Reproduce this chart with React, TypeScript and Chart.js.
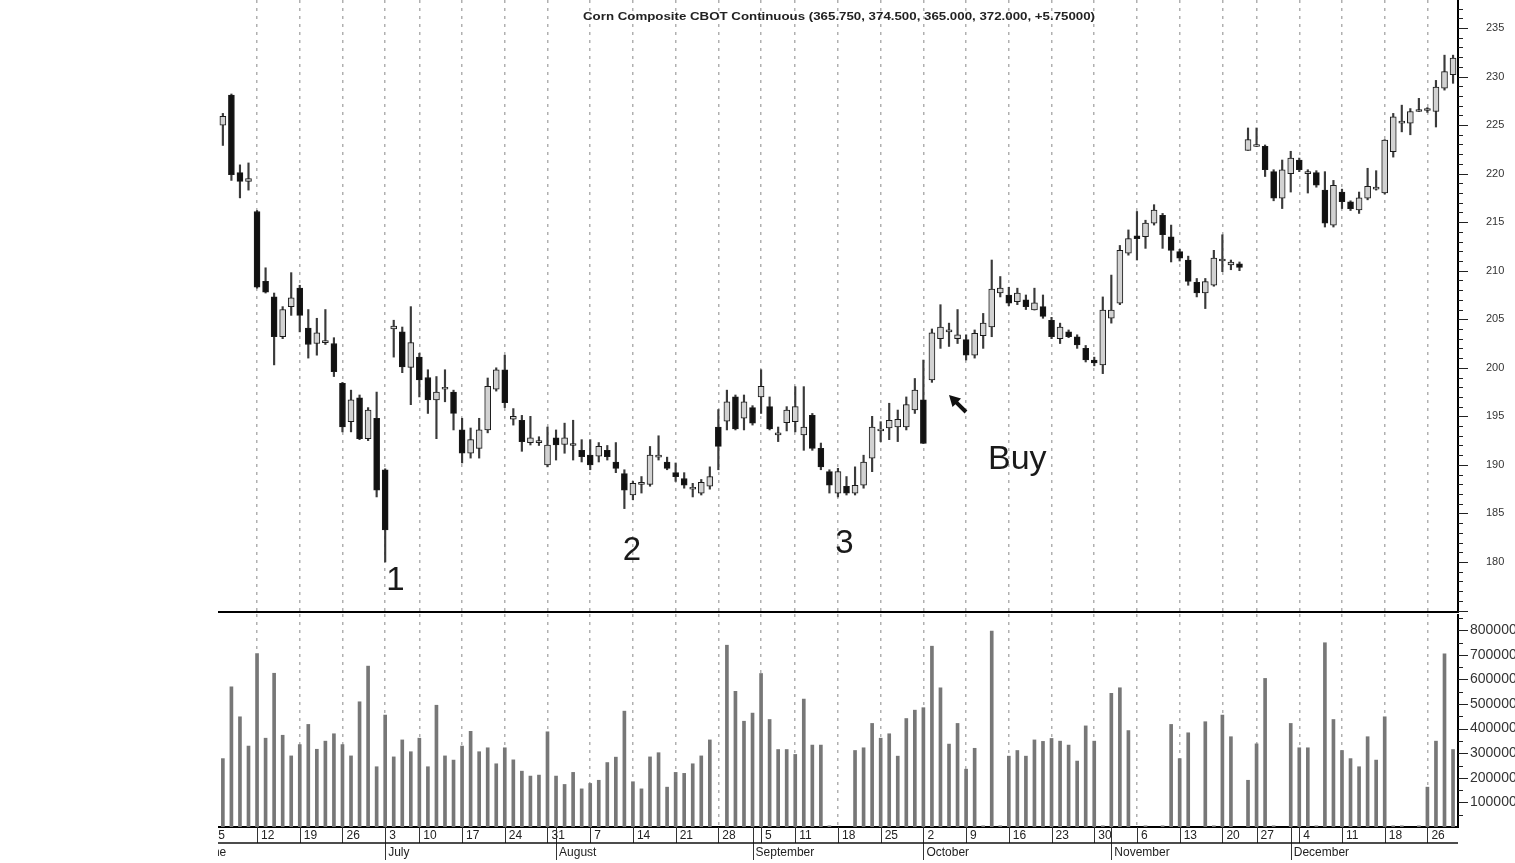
import React, { useEffect, useRef } from "react";
import { Chart, registerables } from "chart.js";

Chart.register(...registerables);

const FONT = "'Liberation Sans', Arial, Helvetica, sans-serif";

// Trading days (index 0 = Jun 5, partly outside the plot)
const monthDays: [string, number[]][] = [
  ["Jun", [5, 6, 7, 8, 9, 12, 13, 14, 15, 16, 19, 20, 21, 22, 23, 26, 27, 28, 29, 30]],
  ["Jul", [3, 5, 6, 7, 10, 11, 12, 13, 14, 17, 18, 19, 20, 21, 24, 25, 26, 27, 28, 31]],
  ["Aug", [1, 2, 3, 4, 7, 8, 9, 10, 11, 14, 15, 16, 17, 18, 21, 22, 23, 24, 25, 28, 29, 30, 31]],
  ["Sep", [1, 5, 6, 7, 8, 11, 12, 13, 14, 15, 18, 19, 20, 21, 22, 25, 26, 27, 28, 29]],
  ["Oct", [2, 3, 4, 5, 6, 9, 10, 11, 12, 13, 16, 17, 18, 19, 20, 23, 24, 25, 26, 27, 30, 31]],
  ["Nov", [1, 2, 3, 6, 7, 8, 9, 10, 13, 14, 15, 16, 17, 20, 21, 22, 24, 27, 28, 29, 30]],
  ["Dec", [1, 4, 5, 6, 7, 8, 11, 12, 13, 14, 15, 18, 19, 20, 21, 22, 26, 27, 28, 29]],
];
const dates: string[] = monthDays.flatMap(([m, ds]) => ds.map((d) => `${m} ${d}`));

const weekStarts = [0, 5, 10, 15, 20, 24, 29, 34, 39, 44, 49, 54, 59, 64, 68, 73, 78, 83, 88, 93, 98, 103, 108, 113, 118, 122, 127, 132, 137, 142];
const monthStarts = [-2, 20, 40, 63, 83, 105, 126];
const monthNames = ["June", "July", "August", "September", "October", "November", "December"];

const priceTicks = [180, 185, 190, 195, 200, 205, 210, 215, 220, 225, 230, 235];
const volumeTicks = [100000, 200000, 300000, 400000, 500000, 600000, 700000, 800000];

const open: (number | null)[] = [
  null, 225.0, 228.1, 220.1, 219.2, 216.1, 208.9, 207.3, 203.2, 206.3,
  208.2, 204.1, 202.5, 202.6, 202.5, 198.4, 194.45, 196.9, 192.7, 194.8,
  189.5, 204.0, 203.7, 200.05, 201.1, 199.0, 196.7, 197.8, 197.5, 193.6,
  191.2, 191.7, 193.6, 197.8, 199.8, 194.7, 194.6, 192.3, 192.3, 190.0,
  192.8, 192.1, 192.0, 191.5, 191.0, 190.9, 191.5, 190.3, 189.1, 186.9,
  188.0, 188.0, 190.8, 190.3, 189.2, 188.6, 187.5, 187.1, 187.8, 193.9,
  194.5, 197.0, 194.8, 195.9, 197.0, 196.0, 193.1, 194.35, 194.45, 193.1,
  195.1, 191.7, 189.3, 187.1, 187.8, 187.1, 187.9, 190.7, 193.5, 193.8,
  193.9, 193.9, 195.65, 196.7, 198.75, 203.0, 203.7, 203.0, 202.9, 201.3,
  203.3, 204.2, 207.7, 207.5, 206.8, 207.0, 205.95, 206.3, 204.9, 203.0,
  203.7, 203.2, 202.0, 200.8, 200.3, 205.1, 206.65, 211.8, 213.6, 213.5,
  214.9, 215.7, 213.5, 211.96, 211.1, 208.8, 207.7, 208.5, 211.0, 210.6,
  210.7, 222.4, 222.8, 222.8, 220.2, 217.46, 220.0, 221.4, 220.0, 220.1,
  218.3, 214.7, 218.1, 217.1, 216.25, 217.46, 218.4, 218.0, 222.26, 225.2,
  225.2, 226.4, 226.5, 226.4, 228.8, 230.2,
];
const high: (number | null)[] = [
  null, 226.2, 228.2, 220.9, 221.1, 216.2, 210.3, 207.7, 206.3, 209.8,
  208.5, 206.0, 205.1, 206.0, 203.1, 198.5, 197.7, 197.2, 195.9, 197.5,
  189.6, 204.9, 204.2, 206.3, 201.5, 199.8, 199.1, 199.8, 197.7, 194.8,
  193.8, 194.8, 198.95, 200.0, 201.3, 195.8, 195.1, 195.0, 192.9, 193.9,
  193.6, 194.3, 194.6, 192.6, 192.6, 192.3, 192.0, 192.3, 189.5, 188.3,
  188.8, 191.9, 193.0, 190.8, 190.2, 189.2, 188.1, 188.5, 189.8, 195.7,
  197.7, 197.2, 197.2, 196.1, 199.8, 197.0, 193.9, 196.0, 198.06, 198.06,
  195.3, 192.25, 189.5, 189.65, 188.8, 189.8, 191.0, 195.0, 194.45, 196.35,
  195.65, 197.0, 198.9, 200.8, 204.0, 206.5, 204.6, 206.0, 203.4, 203.9,
  205.6, 211.1, 209.4, 208.3, 208.2, 207.5, 208.2, 207.5, 205.2, 204.6,
  203.9, 203.4, 202.3, 201.1, 207.3, 209.55, 212.6, 214.2, 216.1, 215.2,
  216.8, 215.9, 214.7, 212.2, 211.5, 209.2, 209.2, 212.1, 213.7, 211.1,
  210.9, 224.7, 224.7, 222.95, 220.4, 221.4, 222.3, 221.6, 220.4, 220.3,
  220.2, 219.3, 218.4, 217.2, 218.1, 220.55, 220.3, 223.5, 226.2, 227.05,
  226.7, 227.75, 226.8, 229.6, 232.2, 232.2,
];
const low: (number | null)[] = [
  null, 222.9, 219.3, 217.5, 218.3, 208.2, 207.7, 200.3, 203.0, 205.4,
  203.7, 201.0, 201.3, 202.4, 199.1, 193.4, 193.4, 192.6, 192.5, 186.7,
  180.0, 201.1, 199.5, 196.2, 197.0, 195.3, 192.7, 196.5, 193.6, 190.2,
  190.7, 190.7, 193.3, 197.6, 195.9, 194.1, 191.4, 192.05, 192.0, 189.8,
  190.5, 191.2, 190.5, 190.3, 189.5, 190.3, 190.5, 189.2, 185.5, 186.4,
  187.1, 187.8, 190.5, 189.5, 188.3, 187.6, 186.7, 186.9, 187.5, 189.5,
  193.6, 193.6, 193.6, 194.1, 195.3, 193.6, 192.4, 193.5, 193.4, 191.5,
  191.5, 189.5, 187.1, 186.7, 186.9, 186.9, 187.6, 189.3, 192.4, 192.6,
  192.4, 193.6, 195.3, 192.2, 198.5, 202.0, 202.2, 202.5, 200.8, 201.0,
  202.0, 203.2, 207.3, 206.4, 206.5, 206.0, 205.95, 205.1, 203.0, 202.5,
  203.1, 202.0, 200.6, 200.2, 199.4, 204.6, 206.5, 211.6, 211.1, 212.3,
  214.7, 212.3, 210.9, 211.0, 208.5, 207.3, 206.1, 208.4, 209.9, 210.1,
  210.0, 222.4, 222.8, 219.7, 217.2, 216.4, 218.1, 220.2, 218.0, 218.6,
  214.5, 214.5, 216.4, 216.2, 215.9, 217.3, 218.3, 217.9, 221.7, 224.3,
  224.0, 226.4, 226.3, 224.8, 228.6, 229.3,
];
const close: (number | null)[] = [
  null, 225.9, 219.9, 219.2, 219.5, 208.3, 207.8, 203.2, 206.0, 207.2,
  205.4, 202.4, 203.6, 202.8, 199.6, 193.9, 196.7, 192.7, 195.65, 187.4,
  183.3, 204.3, 200.1, 202.6, 198.75, 196.7, 197.5, 198.0, 195.3, 191.2,
  192.6, 193.6, 198.1, 199.8, 196.4, 195.0, 192.4, 192.8, 192.5, 192.05,
  192.05, 192.8, 192.2, 190.85, 190.0, 191.9, 190.85, 189.65, 187.4, 188.1,
  188.2, 191.0, 191.0, 189.65, 188.8, 187.9, 187.7, 188.2, 188.8, 191.9,
  196.5, 193.7, 196.5, 194.3, 198.1, 193.7, 193.3, 195.65, 196.0, 193.9,
  191.7, 189.8, 187.9, 189.3, 187.1, 187.9, 190.3, 193.9, 193.7, 194.6,
  194.7, 196.2, 197.7, 192.2, 203.6, 204.2, 203.9, 203.4, 201.3, 203.55,
  204.6, 208.1, 208.2, 206.65, 207.7, 206.3, 206.7, 205.3, 203.2, 204.2,
  203.2, 202.35, 200.8, 200.5, 205.95, 205.95, 212.1, 213.3, 213.3, 214.9,
  216.25, 213.7, 212.1, 211.3, 208.9, 207.7, 208.87, 211.3, 211.2, 210.9,
  210.35, 223.5, 223.0, 220.4, 217.46, 220.4, 221.6, 220.4, 220.2, 218.8,
  214.9, 218.8, 217.1, 216.4, 217.5, 218.7, 218.6, 223.46, 225.86, 225.4,
  226.4, 226.6, 226.7, 228.9, 230.5, 231.9,
];
// Volume in thousands of contracts (0 = no bar)
const volumeK: (number | null)[] = [
  null, 278, 570, 448, 329, 705, 361, 625, 373, 289,
  335, 417, 316, 349, 379, 335, 289, 509, 654, 245,
  455, 285, 354, 306, 361, 245, 495, 289, 272, 329,
  389, 306, 322, 257, 322, 273, 227, 207, 211, 387,
  207, 173, 222, 155, 177, 190, 262, 284, 471, 184,
  155, 285, 302, 162, 222, 218, 257, 289, 354, 0,
  739, 552, 430, 463, 624, 437, 315, 315, 295, 520,
  333, 333, 5, 0, 0, 311, 322, 421, 361, 379,
  288, 441, 475, 485, 735, 566, 337, 421, 235, 320,
  5, 796, 5, 288, 311, 288, 354, 348, 360, 349,
  333, 268, 411, 349, 5, 543, 566, 392, 0, 5,
  0, 5, 417, 278, 383, 0, 428, 5, 455, 367,
  0, 190, 338, 604, 5, 0, 421, 322, 322, 5,
  749, 437, 311, 278, 245, 367, 272, 448, 5, 5,
  0, 5, 162, 349, 704, 315,
];

const X_MIN = 0.43;
const X_MAX = 145.58;

const dayOf = (i: number) => (dates[i] ? dates[i].split(" ")[1] : "");

const fixSize = (w?: number, h?: number) => (s: any) => {
  if (w !== undefined) s.width = w;
  if (h !== undefined) s.height = h;
  s.paddingTop = 0;
  s.paddingBottom = 0;
  s.paddingLeft = 0;
  s.paddingRight = 0;
};

const priceTickPlugin = {
  id: "priceTicks",
  afterDraw(chart: any) {
    const { ctx, chartArea } = chart;
    const y = chart.scales.y;
    ctx.save();
    ctx.strokeStyle = "#222";
    ctx.lineWidth = 1;
    for (let v = Math.ceil(y.min); v <= Math.floor(y.max); v++) {
      const py = Math.round(y.getPixelForValue(v)) + 0.5;
      const len = v % 5 === 0 ? 10 : 5;
      ctx.beginPath();
      ctx.moveTo(chartArea.right, py);
      ctx.lineTo(chartArea.right + len, py);
      ctx.stroke();
    }
    ctx.restore();
  },
};

const volumeTickPlugin = {
  id: "volumeTicks",
  afterDraw(chart: any) {
    const { ctx, chartArea } = chart;
    const y = chart.scales.y;
    const x = chart.scales.x;
    const xm = chart.scales.xm;
    ctx.save();
    ctx.strokeStyle = "#222";
    ctx.lineWidth = 1;
    for (let v = 50000; v <= y.max; v += 50000) {
      const py = Math.round(y.getPixelForValue(v)) + 0.5;
      const len = v % 100000 === 0 ? 10 : 5;
      ctx.beginPath();
      ctx.moveTo(chartArea.right, py);
      ctx.lineTo(chartArea.right + len, py);
      ctx.stroke();
    }
    ctx.strokeStyle = "#333";
    for (const i of weekStarts) {
      const px = Math.round(x.getPixelForValue(i)) + 0.5;
      ctx.beginPath();
      ctx.moveTo(px, x.top);
      ctx.lineTo(px, x.bottom);
      ctx.stroke();
    }
    for (const i of monthStarts) {
      const px = Math.round(x.getPixelForValue(i)) + 0.5;
      ctx.beginPath();
      ctx.moveTo(px, x.top);
      ctx.lineTo(px, xm.bottom - 3);
      ctx.stroke();
    }
    ctx.strokeStyle = "#111";
    ctx.lineWidth = 1.5;
    ctx.beginPath();
    ctx.moveTo(0, xm.top);
    ctx.lineTo(chartArea.right, xm.top);
    ctx.stroke();
    ctx.restore();
  },
};

export default function App() {
  const priceRef = useRef<HTMLCanvasElement>(null);
  const volRef = useRef<HTMLCanvasElement>(null);

  useEffect(() => {
    const idx = dates.map((_, i) => i).filter((i) => open[i] != null);
    const bodies = idx.map((i) => ({
      x: i,
      y: [Math.min(open[i] as number, close[i] as number), Math.max(open[i] as number, close[i] as number)],
    }));
    const bodyColors = idx.map((i) => ((close[i] as number) >= (open[i] as number) ? "#d2d2d2" : "#111111"));
    const wicks = idx.map((i) => ({ x: i, y: [low[i] as number, high[i] as number] }));

    const gridX = {
      offset: false,
      drawTicks: false,
      color: "#b0b0b0",
      lineWidth: 1.5,
    };

    const price = new Chart(priceRef.current as HTMLCanvasElement, {
      type: "bar",
      data: {
        datasets: [
          {
            label: "wick",
            data: wicks as any,
            backgroundColor: "#3a3a3a",
            borderWidth: 0,
            barThickness: 1.5,
            grouped: false,
            order: 2,
          } as any,
          {
            label: "body",
            data: bodies as any,
            backgroundColor: bodyColors,
            borderColor: "#1a1a1a",
            borderWidth: 1,
            borderSkipped: false,
            barThickness: 6,
            grouped: false,
            order: 1,
          } as any,
        ],
      },
      options: {
        animation: false,
        responsive: false,
        maintainAspectRatio: false,
        events: [],
        layout: { padding: 0, autoPadding: false } as any,
        plugins: { legend: { display: false }, tooltip: { enabled: false }, title: { display: false } },
        scales: {
          x: {
            type: "linear",
            min: X_MIN,
            max: X_MAX,
            offset: false,
            position: "bottom",
            afterBuildTicks: (s: any) => {
              s.ticks = weekStarts.map((v) => ({ value: v }));
            },
            ticks: { display: false, autoSkip: false, padding: 0 },
            grid: gridX,
            border: { display: true, color: "#000", width: 2, dash: [3, 5] },
            afterFit: fixSize(undefined, 2),
          } as any,
          y: {
            type: "linear",
            position: "right",
            min: 174.85,
            max: 237.88,
            afterBuildTicks: (s: any) => {
              s.ticks = priceTicks.map((v) => ({ value: v }));
            },
            ticks: {
              autoSkip: false,
              padding: 28,
              color: "#333",
              font: { family: FONT, size: 11 },
              callback: (v: any) => String(v),
            },
            grid: { drawOnChartArea: false, drawTicks: false },
            border: { display: true, color: "#000", width: 2 },
            afterFit: fixSize(57, undefined),
          } as any,
        },
      },
      plugins: [priceTickPlugin],
    });

    const volData = idx
      .filter((i) => (volumeK[i] ?? 0) > 0)
      .map((i) => ({ x: i, y: (volumeK[i] as number) * 1000 }));

    const vol = new Chart(volRef.current as HTMLCanvasElement, {
      type: "bar",
      data: {
        datasets: [
          {
            label: "volume",
            data: volData as any,
            backgroundColor: "#777777",
            borderWidth: 0,
            barThickness: 3,
            grouped: false,
          } as any,
        ],
      },
      options: {
        animation: false,
        responsive: false,
        maintainAspectRatio: false,
        events: [],
        layout: { padding: 0, autoPadding: false } as any,
        plugins: { legend: { display: false }, tooltip: { enabled: false } },
        scales: {
          x: {
            type: "linear",
            min: X_MIN,
            max: X_MAX,
            offset: false,
            position: "bottom",
            weight: 0,
            afterBuildTicks: (s: any) => {
              s.ticks = weekStarts.map((v) => ({ value: v }));
            },
            ticks: {
              autoSkip: false,
              maxRotation: 0,
              minRotation: 0,
              align: "start",
              labelOffset: 4,
              padding: 1,
              color: "#222",
              font: { family: FONT, size: 12 },
              callback: (v: any) => dayOf(Number(v)),
            },
            grid: gridX,
            border: { display: true, color: "#000", width: 2, dash: [3, 5] },
            afterFit: fixSize(undefined, 16),
          } as any,
          xm: {
            type: "linear",
            axis: "x",
            min: X_MIN,
            max: X_MAX,
            offset: false,
            position: "bottom",
            weight: 1,
            afterBuildTicks: (s: any) => {
              s.ticks = monthStarts.map((v) => ({ value: v }));
            },
            ticks: {
              autoSkip: false,
              maxRotation: 0,
              minRotation: 0,
              align: "start",
              labelOffset: 3,
              padding: 2,
              color: "#222",
              font: { family: FONT, size: 12 },
              callback: (v: any) => {
                const k = monthStarts.indexOf(Number(v));
                return k >= 0 ? monthNames[k] : "";
              },
            },
            grid: { offset: false, drawOnChartArea: false, drawTicks: false, color: "rgba(0,0,0,0)" },
            border: { display: false },
            afterFit: fixSize(undefined, 20),
          } as any,
          y: {
            type: "linear",
            position: "right",
            min: 0,
            max: 865854,
            afterBuildTicks: (s: any) => {
              s.ticks = volumeTicks.map((v) => ({ value: v }));
            },
            ticks: {
              autoSkip: false,
              padding: 12,
              color: "#333",
              font: { family: FONT, size: 14 },
              callback: (v: any) => String(v),
            },
            grid: { drawOnChartArea: false, drawTicks: false },
            border: { display: true, color: "#000", width: 2 },
            afterFit: fixSize(57, undefined),
          } as any,
        },
      },
      plugins: [volumeTickPlugin],
    });

    return () => {
      price.destroy();
      vol.destroy();
    };
  }, []);

  return (
    <div
      style={{
        position: "absolute",
        left: 0,
        top: 0,
        width: 1515,
        height: 863,
        background: "#fff",
        overflow: "hidden",
      }}
    >
      <canvas ref={priceRef} width={1297} height={614} style={{ position: "absolute", left: 218, top: 0 }} />
      <canvas ref={volRef} width={1297} height={249} style={{ position: "absolute", left: 218, top: 614 }} />
      <svg
        width={1515}
        height={863}
        style={{ position: "absolute", left: 0, top: 0, pointerEvents: "none" }}
      >
        <text
          x={839}
          y={20}
          textAnchor="middle"
          fontFamily={FONT}
          fontWeight="bold"
          fontSize={11}
          textLength={512}
          lengthAdjust="spacingAndGlyphs"
          fill="#222"
        >
          Corn Composite CBOT Continuous (365.750, 374.500, 365.000, 372.000, +5.75000)
        </text>
        <text x={395.5} y={590} textAnchor="middle" fontFamily={FONT} fontSize={33} fill="#1a1a1a">1</text>
        <text x={632} y={560} textAnchor="middle" fontFamily={FONT} fontSize={33} fill="#1a1a1a">2</text>
        <text x={844.5} y={553} textAnchor="middle" fontFamily={FONT} fontSize={33} fill="#1a1a1a">3</text>
        <text x={988} y={469} fontFamily={FONT} fontSize={34} fill="#1a1a1a">Buy</text>
        <path
          d="M949,395 L961,398.5 L958.2,401.4 L967.4,410.6 L964.6,413.4 L955.4,404.2 L952.5,407 Z"
          fill="#111"
        />
      </svg>
    </div>
  );
}
